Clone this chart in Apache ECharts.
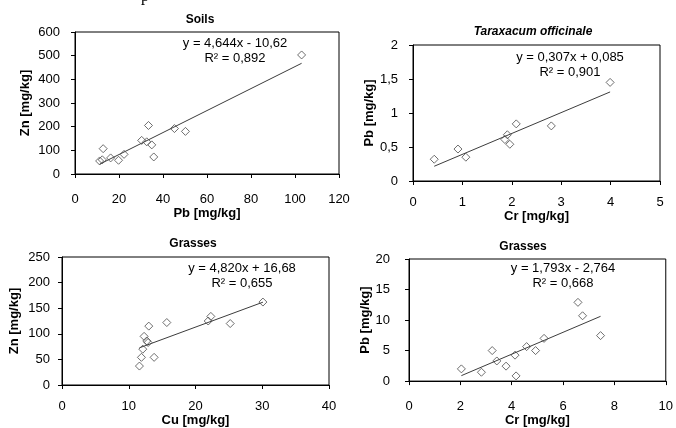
<!DOCTYPE html>
<html><head><meta charset="utf-8">
<script src="https://cdn.jsdelivr.net/npm/echarts@6/dist/echarts.min.js"></script>
<style>html,body{margin:0;padding:0;background:#fff}#c{width:676px;height:428px}</style>
</head><body><div id="c"></div>
<script>
// Panel 1: Soils
const soilsPb = [11.2, 12.4, 12.8, 16.2, 19.8, 22.3, 30.3, 32.6, 33.4, 34.9, 35.8, 45.2, 50.2, 103.0];
const soilsZn = [55, 60, 107, 68, 58, 83, 142, 136, 205, 123, 72, 192, 180, 503];
// Panel 2: Taraxacum officinale
const taraxCr = [0.43, 0.91, 1.07, 1.86, 1.91, 1.96, 2.09, 2.80, 3.99];
const taraxPb = [0.32, 0.47, 0.35, 0.61, 0.68, 0.54, 0.84, 0.81, 1.45];
// Panel 3: Grasses Zn vs Cu
const grassCu = [11.6, 11.9, 12.1, 12.3, 12.7, 12.9, 13.0, 13.8, 15.7, 21.9, 22.3, 25.2, 30.1];
const grassZn = [37, 54, 70, 95, 86, 83, 115, 54, 122, 125, 134, 120, 162];
// Panel 4: Grasses Pb vs Cr
const grassCr = [2.04, 2.82, 3.24, 3.42, 3.78, 4.13, 4.17, 4.58, 4.93, 5.26, 6.58, 6.76, 7.46];
const grassPb = [2.0, 1.45, 5.0, 3.3, 2.45, 4.25, 0.85, 5.65, 5.0, 7.0, 12.9, 10.7, 7.45];

// Trend line coefficients [slope, intercept]
const trendCoef = [[4.644, -10.62], [0.307, 0.085], [4.820, 16.68], [1.793, -2.764]];
const eqText = ['y = 4,644x - 10,62', 'y = 0,307x + 0,085', 'y = 4,820x + 16,68', 'y = 1,793x - 2,764'];
const r2Text = ['R\u00b2 = 0,892', 'R\u00b2 = 0,901', 'R\u00b2 = 0,655', 'R\u00b2 = 0,668'];
const titles = ['Soils', 'Taraxacum officinale', 'Grasses', 'Grasses'];
const xNames = ['Pb [mg/kg]', 'Cr [mg/kg]', 'Cu [mg/kg]', 'Cr [mg/kg]'];
const yNames = ['Zn [mg/kg]', 'Pb [mg/kg]', 'Zn [mg/kg]', 'Pb [mg/kg]'];
const xRanges = [[0, 120, 20], [0, 5, 1], [0, 40, 10], [0, 10, 2]];
const yRanges = [[0, 600, 100], [0, 2, 0.5], [0, 250, 50], [0, 20, 5]];

const panels = [[soilsPb, soilsZn], [taraxCr, taraxPb], [grassCu, grassZn], [grassCr, grassPb]];

// layout
const grids = [
  {left: 75, top: 32, width: 264, height: 142},
  {left: 413, top: 45, width: 247, height: 136},
  {left: 62, top: 257, width: 267, height: 130},
  {left: 409, top: 259, width: 260, height: 129}
];
const xLabelMargin = [19, 15, 15, 19];
const xNameGap = [28, 24, 29, 30];
const yLabelMargin = [15, 15, 12, 19];
const yNameGap = [43, 31, 41, 32];
const titlePos = [[200, 20], [533, 32], [193, 244], [523, 247]];
const eqPos = [[235, 43, 58], [570, 57, 72], [242, 268, 283], [563, 268, 283]];

const FONT = "'Liberation Sans', Arial, sans-serif";
const fmt = v => String(v).replace('.', ',');

const option = {
  animation: false,
  backgroundColor: '#fff',
  grid: grids.map(g => Object.assign({show: true, borderColor: '#000', borderWidth: 1, backgroundColor: 'transparent', containLabel: false}, g)),
  xAxis: xRanges.map((r, i) => ({
    type: 'value', gridIndex: i, min: r[0], max: r[1], interval: r[2],
    name: xNames[i], nameLocation: 'middle', nameGap: xNameGap[i],
    nameTextStyle: {fontFamily: FONT, fontWeight: 'bold', fontSize: 13, color: '#000'},
    axisLine: {show: true, onZero: false, lineStyle: {color: '#000', width: 1}},
    axisTick: {show: true, inside: false, length: 4, lineStyle: {color: '#000'}},
    axisLabel: {margin: xLabelMargin[i], fontFamily: FONT, fontSize: 13, color: '#000', formatter: fmt, showMaxLabel: true, showMinLabel: true},
    splitLine: {show: false}
  })),
  yAxis: yRanges.map((r, i) => ({
    type: 'value', gridIndex: i, min: r[0], max: r[1], interval: r[2],
    name: yNames[i], nameLocation: 'middle', nameGap: yNameGap[i],
    nameTextStyle: {fontFamily: FONT, fontWeight: 'bold', fontSize: 13, color: '#000'},
    axisLine: {show: true, onZero: false, lineStyle: {color: '#000', width: 1}},
    axisTick: {show: true, inside: false, length: 4, lineStyle: {color: '#000'}},
    axisLabel: {margin: yLabelMargin[i], fontFamily: FONT, fontSize: 13, color: '#000', formatter: fmt, showMaxLabel: true, showMinLabel: true},
    splitLine: {show: false}
  })),
  series: [],
  graphic: []
};

panels.forEach((p, i) => {
  const xs = p[0], ys = p[1];
  const [a, b] = trendCoef[i];
  const xmin = Math.min(...xs), xmax = Math.max(...xs);
  option.series.push({
    type: 'line', xAxisIndex: i, yAxisIndex: i, symbol: 'none', z: 2,
    lineStyle: {color: '#3c3c3c', width: 1},
    data: [[xmin, a * xmin + b], [xmax, a * xmax + b]]
  });
  option.series.push({
    type: 'scatter', xAxisIndex: i, yAxisIndex: i, symbol: 'diamond', symbolSize: 8, z: 3,
    itemStyle: {color: 'rgba(255,255,255,0)', borderColor: '#4a4a4a', borderWidth: 1},
    data: xs.map((x, k) => [x, ys[k]])
  });
  option.graphic.push({
    type: 'text', x: titlePos[i][0], y: titlePos[i][1],
    style: {text: titles[i], fontFamily: FONT, fontSize: 12, fontWeight: 'bold', fontStyle: i === 1 ? 'italic' : 'normal',
      fill: '#000', align: 'center', verticalAlign: 'middle'}
  });
  option.graphic.push({
    type: 'text', x: eqPos[i][0], y: eqPos[i][1],
    style: {text: eqText[i], fontFamily: FONT, fontSize: 13, fill: '#000', align: 'center', verticalAlign: 'middle'}
  });
  option.graphic.push({
    type: 'text', x: eqPos[i][0], y: eqPos[i][2],
    style: {text: r2Text[i], fontFamily: FONT, fontSize: 13, fill: '#000', align: 'center', verticalAlign: 'middle'}
  });
});
// cropped remnant of text above the chart
option.graphic.push({
  type: 'text', x: 145, y: 5,
  style: {text: 'p', fontFamily: "'Liberation Serif', serif", fontSize: 16, fill: '#000', align: 'center', verticalAlign: 'bottom'}
});

const chart = echarts.init(document.getElementById('c'), null, {renderer: 'canvas'});
chart.setOption(option);
</script></body></html>
